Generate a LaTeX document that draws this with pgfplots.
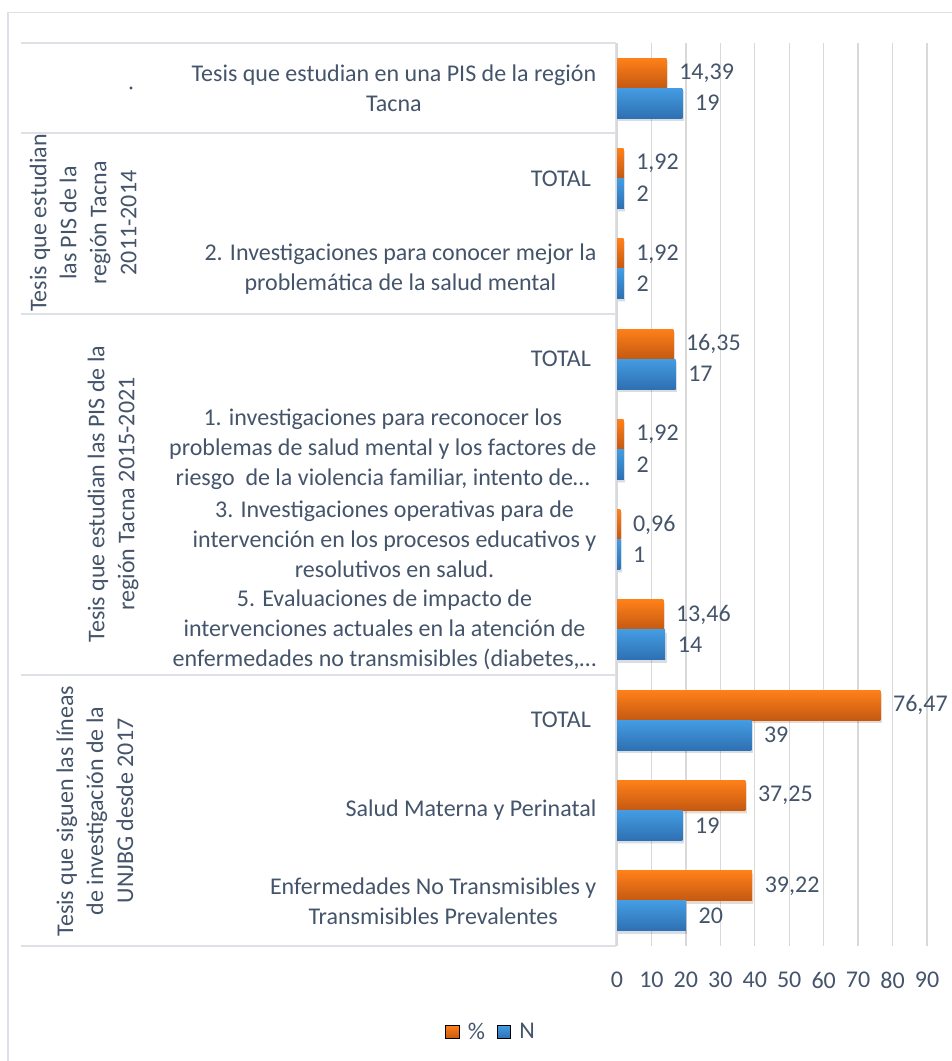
\documentclass[border=0pt]{standalone}
\usepackage{fontspec}
\setmainfont{Carlito}
\usepackage{pgfplots}
\usepackage{pgfplotstable}
\pgfplotsset{compat=1.18}

\definecolor{txt}{HTML}{44546A}
\definecolor{grd}{HTML}{D9D9D9}
\definecolor{tbl}{HTML}{DDE1E6}
\definecolor{orT}{RGB}{255,128,25}
\definecolor{orB}{RGB}{196,89,17}
\definecolor{blT}{RGB}{68,156,226}
\definecolor{blB}{RGB}{46,112,178}
\newcommand{\lbl}{\fontsize{18}{22.5}\selectfont}

% pos = category slot (1 = top), pct = %, n = N
\pgfplotstableread{
pos pct   n
1   14.39 19
2   1.92  2
3   1.92  2
4   16.35 17
5   1.92  2
6   0.96  1
7   13.46 14
8   76.47 39
9   37.25 19
10  39.22 20
}\data

\pgfplotsset{
  shad/.style={preaction={fill=black, opacity=0.09,
      transform canvas={shift={(1pt,-2pt)}}}},
  orbar/.style={draw=none, top color=orT, bottom color=orB, shad, bar shift=-0.166,
    nodes near coords={\pgfmathprintnumber[fixed,fixed zerofill,precision=2,use comma,assume math mode=true]{\pgfplotspointmeta}}},
  blbar/.style={draw=none, top color=blT, bottom color=blB, shad, bar shift=0.166,
    nodes near coords={\pgfmathprintnumber[fixed,precision=0,assume math mode=true]{\pgfplotspointmeta}}},
}

\begin{document}
\begin{tikzpicture}
\useasboundingbox (0,0) rectangle (714pt,795.75pt);
% frame, category table and group labels (pixel grid, y down)
\begin{scope}[x=0.75pt,y=-0.75pt,shift={(0pt,795.75pt)}]
  \draw[tbl, line width=1.2pt] (8,1075) -- (8,12.5) -- (960,12.5);
  \foreach \yy in {43,133,314,675,946}
    \draw[tbl, line width=1pt] (21,\yy) -- (616,\yy);
  \draw[tbl, line width=1pt] (616,43) -- (616,946);
  \node[rotate=90, font=\lbl, text=txt] at (131,88) {.};
  \node[rotate=90, align=center, font=\lbl, text=txt] at (83,223)
    {Tesis que estudian\\las PIS de la\\región Tacna\\2011-2014};
  \node[rotate=90, align=center, font=\lbl, text=txt] at (113,494)
    {Tesis que estudian las PIS de la\\región Tacna 2015-2021};
  \node[rotate=90, align=center, font=\lbl, text=txt] at (95,811)
    {Tesis que siguen las líneas\\de investigación de la\\UNJBG desde 2017};
\end{scope}

\begin{axis}[
    at={(462.75pt,86.25pt)}, anchor=south west,
    scale only axis, width=232.5pt, height=677.25pt,
    xbar, bar width=0.332,
    xmin=0, xmax=90, ymin=0.5, ymax=10.5, y dir=reverse,
    xtick={0,10,...,90}, ytick={1,...,10},
    yticklabels={
      {Tesis que estudian en una PIS de la región\\Tacna},
      {TOTAL\hspace*{4pt}},
      {2. Investigaciones para conocer mejor la\\problemática de la salud mental},
      {TOTAL\hspace*{4pt}},
      {1. investigaciones para reconocer los\\problemas de salud mental y los factores de\\riesgo \ de la violencia familiar, intento de…},
      {3. Investigaciones operativas para de\\intervención en los procesos educativos y\\resolutivos en salud.},
      {5. Evaluaciones de impacto de\\intervenciones actuales en la atención de\\enfermedades no transmisibles (diabetes,…},
      {TOTAL\hspace*{4pt}},
      {Salud Materna y Perinatal},
      {Enfermedades No Transmisibles y\\Transmisibles Prevalentes}},
    xmajorgrids, major grid style={grd, line width=1pt},
    axis line style={draw=none}, major tick length=0pt,
    tick label style={font=\lbl, text=txt},
    /pgf/number format/assume math mode=true,
    xticklabel style={yshift=-16pt},
    yticklabel style={align=center, anchor=east, xshift=-12pt},
    clip=false,
    point meta=x,
    every node near coord/.append style={font=\lbl, text=txt, xshift=6pt},
    legend columns=2,
    legend style={draw=none, fill=none, font=\lbl, text=txt,
      at={(axis description cs:-0.405,-0.0952)}, anchor=center,
      /tikz/every odd column/.append style={column sep=4.5pt},
      /tikz/every even column/.append style={column sep=7pt}},
]
% one plot per bar so that each bar gets its own gradient
\pgfplotsinvokeforeach{1,...,10}{
  \addplot[orbar, forget plot, restrict y to domain=#1:#1] table[x=pct, y=pos] {\data};
  \addplot[blbar, forget plot, restrict y to domain=#1:#1] table[x=n, y=pos] {\data};
}
\addlegendimage{legend image code/.code={\fill[top color=orT, bottom color=orB] (0pt,-5pt) rectangle (10pt,5pt);}}
\addlegendentry{\%}
\addlegendimage{legend image code/.code={\fill[top color=blT, bottom color=blB] (0pt,-5pt) rectangle (10pt,5pt);}}
\addlegendentry{N}
\end{axis}
\end{tikzpicture}
\end{document}
